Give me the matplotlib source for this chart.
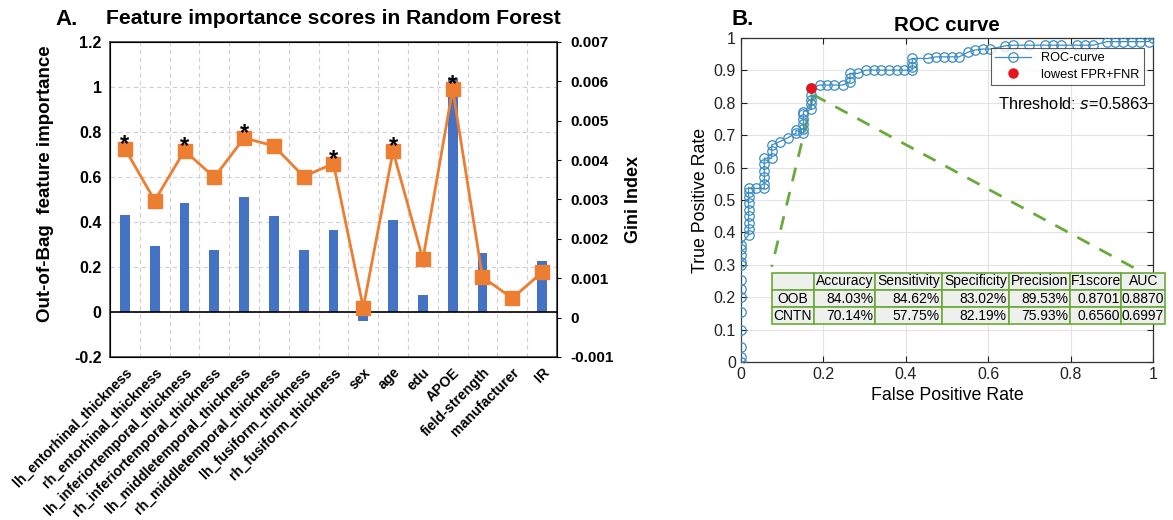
import numpy as np
import matplotlib.pyplot as plt
from matplotlib.ticker import FuncFormatter, MultipleLocator

plt.rcParams['font.family'] = ['Liberation Sans', 'DejaVu Sans']

# ---- data: panel A ----
features = ['lh_entorhinal_thickness', 'rh_entorhinal_thickness', 'lh_inferiortemporal_thickness',
            'rh_inferiortemporal_thickness', 'lh_middletemporal_thickness', 'rh_middletemporal_thickness',
            'lh_fusiform_thickness', 'rh_fusiform_thickness', 'sex', 'age', 'edu', 'APOE',
            'field-strength', 'manufacturer', 'IR']
oob_importance = [0.43, 0.295, 0.483, 0.277, 0.51, 0.425, 0.274, 0.366, -0.038, 0.41, 0.075, 1.04,
                  0.26, 0.0, 0.228]
gini_index = [0.00429, 0.00297, 0.00424, 0.00356, 0.00456, 0.00436, 0.00358, 0.00391, 0.00025,
              0.00422, 0.00148, 0.0058, 0.00103, 0.00049, 0.00115]
significant = ['lh_entorhinal_thickness', 'lh_inferiortemporal_thickness', 'lh_middletemporal_thickness',
               'rh_fusiform_thickness', 'age', 'APOE']

# ---- data: panel B ----
roc_fpr = [0, 0, 0, 0, 0, 0, 0, 0, 0, 0, 0, 0, 0,
           0.019, 0.019, 0.019, 0.019, 0.019, 0.019, 0.019, 0.019, 0.019,
           0.038,
           0.057, 0.057, 0.057, 0.057, 0.057, 0.057,
           0.075, 0.075, 0.075,
           0.094, 0.114, 0.134, 0.134,
           0.152, 0.152, 0.152, 0.152, 0.152, 0.152,
           0.171, 0.171, 0.171, 0.171, 0.171,
           0.191, 0.209, 0.227, 0.247,
           0.265, 0.265, 0.265, 0.284,
           0.303, 0.322, 0.34, 0.36, 0.378, 0.397,
           0.416, 0.416, 0.416, 0.416,
           0.453, 0.474, 0.493, 0.513, 0.53,
           0.55, 0.568, 0.587, 0.605, 0.641, 0.661, 0.7,
           0.739, 0.758, 0.777, 0.815, 0.835, 0.855,
           0.888, 0.908, 0.928, 0.948, 0.968, 0.989, 1.0]
roc_tpr = [0, 0.014, 0.045, 0.1, 0.155, 0.2, 0.224, 0.253, 0.3, 0.31, 0.33, 0.348, 0.362,
           0.392, 0.41, 0.43, 0.45, 0.47, 0.49, 0.51, 0.525, 0.536,
           0.536,
           0.536, 0.55, 0.57, 0.59, 0.61, 0.629,
           0.629, 0.65, 0.67,
           0.68, 0.692, 0.706, 0.715,
           0.706, 0.72, 0.735, 0.75, 0.765, 0.773,
           0.78, 0.795, 0.81, 0.824, 0.845,
           0.855, 0.855, 0.855, 0.855,
           0.865, 0.878, 0.891, 0.891,
           0.901, 0.901, 0.901, 0.901, 0.901, 0.901,
           0.901, 0.912, 0.924, 0.937,
           0.937, 0.942, 0.942, 0.942, 0.942,
           0.956, 0.963, 0.966, 0.966, 0.976, 0.978, 0.978,
           0.978, 0.978, 0.978, 0.978, 0.978, 0.978,
           0.989, 0.989, 0.989, 0.989, 0.989, 0.989, 1.0]
best_point = (0.171, 0.845)
threshold = 0.5863

table_cols = ['', 'Accuracy', 'Sensitivity', 'Specificity', 'Precision', 'F1score', 'AUC']
table_rows = ['OOB', 'CNTN']
table_vals = [['84.03%', '84.62%', '83.02%', '89.53%', '0.8701', '0.8870'],
              ['70.14%', '57.75%', '82.19%', '75.93%', '0.6560', '0.6997']]

fig = plt.figure(figsize=(11.73, 5.2), dpi=100)

# ================= panel A =================
ax = fig.add_axes([0.0938, 0.3135, 0.381, 0.606])
x = np.arange(len(features))
ax.bar(x, oob_importance, width=0.33, color='#4472C4', zorder=2)
ax.axhline(0, color='black', lw=1.2, zorder=3)
ax.set_xlim(-0.5, len(features) - 0.5)
ax.set_ylim(-0.2, 1.2)
ax.yaxis.set_major_locator(MultipleLocator(0.2))
ax.yaxis.set_major_formatter(FuncFormatter(lambda v, p: '%g' % round(v, 3)))
for yv in np.arange(-0.2, 1.21, 0.2):
    ax.axhline(yv, color='#d0d0d0', lw=0.8, ls=(0, (4, 3)), zorder=0)
for xv in x[:-1] + 0.5:
    ax.axvline(xv, color='#d0d0d0', lw=0.8, ls=(0, (4, 3)), zorder=0)
ax.set_xticks(x)
ax.set_xticklabels(features, rotation=45, ha='right', rotation_mode='anchor',
                   fontsize=10.2, fontweight='bold')
ax.tick_params(axis='both', length=0, pad=6)
for t in ax.get_yticklabels():
    t.set_fontweight('bold')
    t.set_fontsize(11.5)
ax.set_ylabel('Out-of-Bag  feature importance', fontsize=13.5, fontweight='bold')
ax.yaxis.set_label_coords(-0.125, 0.55)
for s in ax.spines.values():
    s.set_color('#404040')
    s.set_linewidth(1.2)

ax2 = ax.twinx()
ax2.plot(x, gini_index, color='#ED7D31', lw=2, marker='s', markersize=10, zorder=4)
ax2.set_ylim(-0.001, 0.007)
ax2.yaxis.set_major_locator(MultipleLocator(0.001))
ax2.yaxis.set_major_formatter(FuncFormatter(lambda v, p: '%g' % round(v, 4)))
ax2.tick_params(axis='y', length=3, pad=7, labelsize=11)
for t in ax2.get_yticklabels():
    t.set_fontweight('bold')
ax2.set_ylabel('Gini Index', fontsize=13, fontweight='bold', labelpad=8)
for name in significant:
    i = features.index(name)
    ax2.annotate('*', (x[i], gini_index[i]), xytext=(0, -5), textcoords='offset points',
                 ha='center', va='bottom', fontsize=17, fontweight='bold', color='black', zorder=5)

fig.text(0.047, 0.962, 'A.', fontsize=16, fontweight='bold', va='center')
ax.set_title('Feature importance scores in Random Forest', fontsize=15.2, fontweight='bold', pad=13)

# ================= panel B =================
bx = fig.add_axes([0.6315, 0.3038, 0.3515, 0.623])
roc_color = '#3d8cc4'
bx.plot([best_point[0] + 0.005, 0.075], [best_point[1] - 0.02, 0.294], color='#6aaa3a', lw=2,
        ls=(0, (5, 4)), zorder=1)
bx.plot([best_point[0] + 0.005, 0.971], [best_point[1] - 0.02, 0.279], color='#6aaa3a', lw=2,
        ls=(0, (5, 4)), zorder=1)
bx.plot(roc_fpr, roc_tpr, color=roc_color, lw=0.9, marker='o', markersize=6.8, mfc='none',
        mew=0.9, label='ROC-curve', zorder=3)
bx.plot([best_point[0]], [best_point[1]], 'o', color='#e8141b', markersize=6.5,
        label='lowest FPR+FNR', zorder=4, lw=0)
bx.set_xlim(0, 1)
bx.set_ylim(0, 1)
bx.set_xticks(np.arange(0, 1.01, 0.2))
bx.set_yticks(np.arange(0, 1.01, 0.1))
bx.xaxis.set_major_formatter(FuncFormatter(lambda v, p: '%g' % round(v, 2)))
bx.yaxis.set_major_formatter(FuncFormatter(lambda v, p: '%g' % round(v, 2)))
bx.grid(True, color='#e3e3e3', lw=0.8)
bx.set_axisbelow(True)
bx.tick_params(direction='in', length=4, top=True, right=True, labelsize=11.5, colors='#222222')
for s in bx.spines.values():
    s.set_color('#333333')
    s.set_linewidth(0.9)
bx.set_xlabel('False Positive Rate', fontsize=12.8, labelpad=4)
bx.set_ylabel('True Positive Rate', fontsize=12.8, labelpad=3)
bx.set_title('ROC curve', fontsize=14.8, fontweight='bold', pad=5)
fig.text(0.624, 0.962, 'B.', fontsize=16, fontweight='bold', va='center')

leg = bx.legend(loc='upper right', bbox_to_anchor=(0.978, 0.97), fontsize=9.2, frameon=True,
                fancybox=False, edgecolor='#333333', borderaxespad=0, handlelength=2.8,
                borderpad=0.35, labelspacing=0.35)
leg.get_frame().set_linewidth(0.8)
bx.text(0.623, 0.795, 'Threshold: $s$=%.4f' % threshold, fontsize=11.8, va='center', ha='left')

cell_text = [table_cols[1:]] + table_vals
row_labels = [''] + table_rows
full = [[r] + c for r, c in zip(row_labels, cell_text)]
col_w = [42.3, 61, 67.3, 66.7, 61.7, 51, 44.3]
tot = sum(col_w)
tb = bx.table(cellText=full, bbox=[0.075, 0.116, 0.955, 0.16], cellLoc='right',
              colWidths=[w / tot for w in col_w])
tb.auto_set_font_size(False)
for (r, c), cell in tb.get_celld().items():
    cell.set_facecolor('#edf0ec')
    cell.set_edgecolor('#6aaa3a')
    cell.set_linewidth(1.2)
    cell.get_text().set_fontsize(10)
    if r == 0 or c == 0:
        cell.get_text().set_ha('center')
        cell._loc = 'center'
    cell.PAD = 0.03
tb.set_clip_on(False)
tb.set_zorder(5)

fig.savefig('out.png', dpi=100)
